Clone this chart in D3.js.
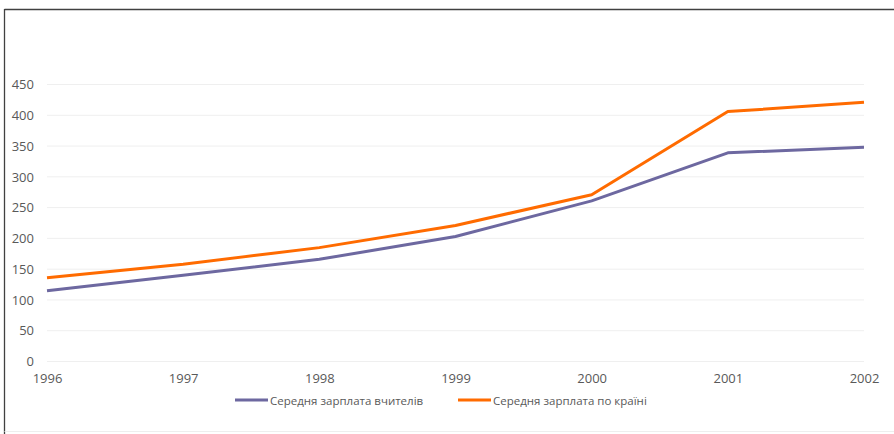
<!DOCTYPE html>
<html><head><meta charset="utf-8">
<script src="https://cdn.jsdelivr.net/npm/d3@7"></script>
<style>body{margin:0;background:#fff}svg{display:block}</style>
</head><body>
<svg id="c" width="894" height="434"></svg>
<script>
const years = ["1996","1997","1998","1999","2000","2001","2002"];
const teachers = [115, 140, 166, 203, 261, 339, 348];
const country = [136, 158, 185, 221, 271, 406, 421];
const yTicks = [0, 50, 100, 150, 200, 250, 300, 350, 400, 450];
const seriesNames = ["Середня зарплата вчителів", "Середня зарплата по країні"];
const colors = ["#6d68a0", "#ff6b00"];

const svg = d3.select("#c");
const font = "Open Sans, Liberation Sans, sans-serif";
// frame
svg.append("line").attr("x1",4.5).attr("x2",894).attr("y1",9.5).attr("y2",9.5).attr("stroke","#404040").attr("stroke-width",1.3);
svg.append("line").attr("x1",4.5).attr("x2",4.5).attr("y1",9).attr("y2",434).attr("stroke","#404040").attr("stroke-width",1.3);
svg.append("line").attr("x1",4.5).attr("x2",894).attr("y1",431.5).attr("y2",431.5).attr("stroke","#eeeeee").attr("stroke-width",1);

const x = d3.scalePoint().domain(years).range([47, 864]);
const y = d3.scaleLinear().domain([0, 450]).range([361.5, 84.5]);

const grid = svg.append("g");
grid.selectAll("line").data(yTicks).join("line")
  .attr("x1",47).attr("x2",864).attr("y1",d=>y(d)).attr("y2",d=>y(d))
  .attr("stroke","#efefef").attr("stroke-width",1);

const ya = svg.append("g").attr("transform","translate(40,0)")
  .call(d3.axisLeft(y).tickValues(yTicks).tickSize(0).tickPadding(6));
ya.select(".domain").remove();
ya.selectAll("text").attr("font-family",font).attr("font-size",13).attr("fill","#595959");

const xa = svg.append("g").attr("transform","translate(0,366)")
  .call(d3.axisBottom(x).tickSize(0).tickPadding(8));
xa.select(".domain").remove();
xa.selectAll("text").attr("font-family",font).attr("font-size",13).attr("fill","#595959");

const line = d3.line().x((d,i)=>x(years[i])).y(d=>y(d));
[teachers, country].forEach((s,k)=>{
  svg.append("path").datum(s).attr("d",line).attr("fill","none")
    .attr("stroke",colors[k]).attr("stroke-width",3).attr("stroke-linejoin","round");
});

const legX = [235, 458];
seriesNames.forEach((n,k)=>{
  const g = svg.append("g").attr("transform",`translate(${legX[k]},400)`);
  g.append("line").attr("x1",0).attr("x2",33).attr("y1",0).attr("y2",0).attr("stroke",colors[k]).attr("stroke-width",3);
  g.append("text").attr("x",35).attr("y",4.5).attr("font-family",font).attr("font-size",11.5).attr("fill","#595959").text(n);
});
</script>
</body></html>
